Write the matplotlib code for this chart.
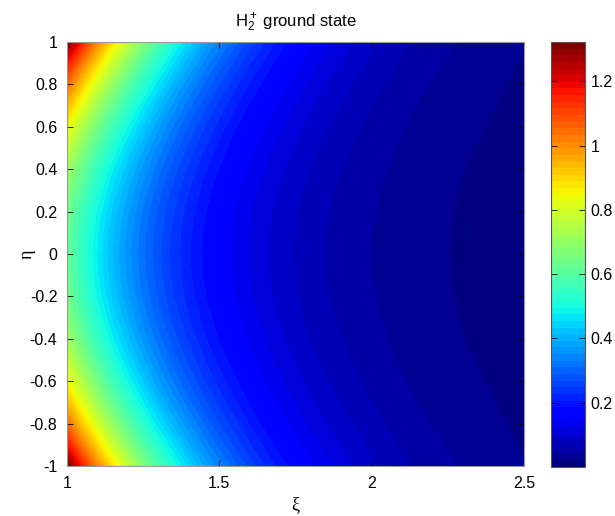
import numpy as np
import matplotlib
matplotlib.use("Agg")
import matplotlib.pyplot as plt

plt.rcParams['font.family'] = ['Liberation Sans', 'DejaVu Sans']
plt.rcParams['mathtext.fontset'] = 'custom'
plt.rcParams['mathtext.rm'] = 'Liberation Sans'
plt.rcParams['mathtext.it'] = 'Liberation Sans'

# xi grid (horizontal axis)
xi = [1.00, 1.05, 1.10, 1.15, 1.20, 1.25, 1.30, 1.35, 1.40, 1.45, 1.50,
      1.55, 1.60, 1.65, 1.70, 1.75, 1.80, 1.85, 1.90, 1.95, 2.00,
      2.05, 2.10, 2.15, 2.20, 2.25, 2.30, 2.35, 2.40, 2.45, 2.50]
# values read along eta = 0
row_eta0 = [0.620, 0.541, 0.472, 0.412, 0.360, 0.314, 0.274, 0.239, 0.209, 0.182, 0.159,
            0.139, 0.121, 0.106, 0.092, 0.081, 0.070, 0.061, 0.054, 0.047, 0.041,
            0.036, 0.031, 0.027, 0.024, 0.021, 0.018, 0.016, 0.014, 0.012, 0.010]
# eta grid (vertical axis)
eta = [-1.0, -0.9, -0.8, -0.7, -0.6, -0.5, -0.4, -0.3, -0.2, -0.1, 0.0,
       0.1, 0.2, 0.3, 0.4, 0.5, 0.6, 0.7, 0.8, 0.9, 1.0]
# values read along xi = 1 (left edge)
col_xi1 = [1.322, 1.172, 1.044, 0.937, 0.848, 0.776, 0.718, 0.675, 0.644, 0.626, 0.620,
           0.626, 0.644, 0.675, 0.718, 0.776, 0.848, 0.937, 1.044, 1.172, 1.322]

vmin, vmax = 0.0, 1.322
cbar_ticks = [0.2, 0.4, 0.6, 0.8, 1.0, 1.2]
xticks = [1, 1.5, 2, 2.5]
yticks = [-1, -0.8, -0.6, -0.4, -0.2, 0, 0.2, 0.4, 0.6, 0.8, 1]

XI, ETA = np.meshgrid(np.array(xi), np.array(eta))
Z = np.outer(np.array(col_xi1), np.array(row_eta0)) / row_eta0[0]

W, H = 615, 516
fig = plt.figure(figsize=(W / 100, H / 100), dpi=100)
ax = fig.add_axes([67 / W, 1 - 466 / H, 457 / W, 424 / H])
cax = fig.add_axes([551 / W, 1 - 467 / H, 34 / W, 425 / H])

cmap = plt.get_cmap('jet', 64)
levels = np.linspace(vmin, vmax, 65)
cf = ax.contourf(XI, ETA, Z, levels=levels, cmap=cmap, vmin=vmin, vmax=vmax, antialiased=False)
ax.set_xlim(1, 2.5)
ax.set_ylim(-1, 1)
ax.set_xticks(xticks)
ax.set_xticklabels(['1', '1.5', '2', '2.5'])
ax.set_yticks(yticks)
ax.set_yticklabels(['-1', '-0.8', '-0.6', '-0.4', '-0.2', '0', '0.2', '0.4', '0.6', '0.8', '1'])
ax.tick_params(direction='in', length=4, width=0.6, labelsize=11.5, top=True, right=True, pad=7)
for s in ax.spines.values():
    s.set_color('#9a9a9a')
    s.set_linewidth(0.8)
ax.set_title(r'H$_2^+$ ground state', fontsize=12, pad=11)
ax.set_xlabel('ξ', family=['Liberation Serif', 'DejaVu Serif'], fontsize=13, labelpad=4)
ax.set_ylabel('η', family=['Liberation Serif', 'DejaVu Serif'], fontsize=13, rotation=90)
ax.yaxis.set_label_coords(-0.068, 0.5)

norm = matplotlib.colors.Normalize(vmin=vmin, vmax=vmax)
cb = fig.colorbar(matplotlib.cm.ScalarMappable(norm=norm, cmap=cmap), cax=cax)
cb.set_ticks(cbar_ticks)
cb.set_ticklabels(['0.2', '0.4', '0.6', '0.8', '1', '1.2'])
cax.tick_params(direction='in', length=4, width=0.6, labelsize=11.5, left=True, right=True, pad=4)
cb.outline.set_linewidth(0.8)
cb.outline.set_edgecolor('#555555')

fig.savefig('out.png', dpi=100)
